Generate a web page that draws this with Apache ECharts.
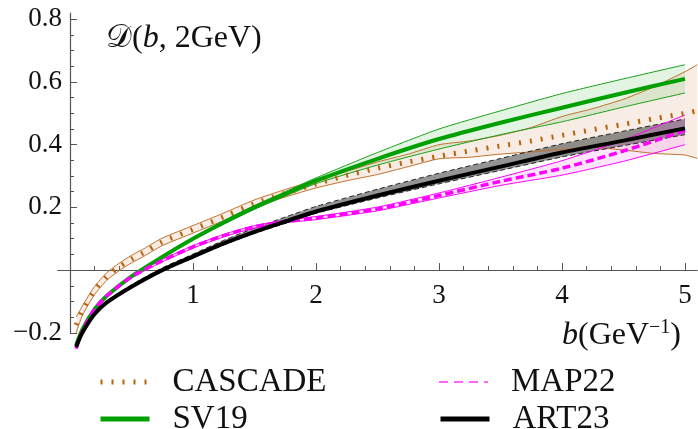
<!DOCTYPE html>
<html>
<head>
<meta charset="utf-8">
<script src="https://cdn.jsdelivr.net/npm/echarts@6/dist/echarts.min.js"></script>
<style>
  html, body { margin: 0; background: #fff; }
  #chart { width: 698px; height: 429px; }
</style>
</head>
<body>
<div id="chart"></div>
<script>
// b grid (GeV^-1) shared by SV19, ART23 and MAP22
var bGrid = [0.05, 0.1, 0.2, 0.3, 0.5, 0.75, 1, 1.25, 1.5, 1.75, 2, 2.5, 3, 3.5, 4, 4.5, 5]

var sv19Mid = [-0.24, -0.19, -0.125, -0.082, -0.02, 0.042, 0.1, 0.152, 0.2, 0.243, 0.285, 0.355, 0.418, 0.47, 0.518, 0.565, 0.61]
var sv19Hi  = [-0.238, -0.188, -0.123, -0.08, -0.017, 0.045, 0.104, 0.157, 0.206, 0.25, 0.294, 0.375, 0.45, 0.508, 0.563, 0.61, 0.655]
var sv19Lo  = [-0.242, -0.192, -0.127, -0.084, -0.023, 0.039, 0.096, 0.147, 0.194, 0.236, 0.276, 0.335, 0.386, 0.432, 0.473, 0.52, 0.565]

var art23Mid = [-0.245, -0.2, -0.14, -0.103, -0.053, 0.0, 0.043, 0.085, 0.122, 0.155, 0.187, 0.238, 0.285, 0.33, 0.375, 0.413, 0.452]
var art23Hi  = [-0.242, -0.197, -0.136, -0.098, -0.047, 0.007, 0.051, 0.095, 0.134, 0.169, 0.203, 0.258, 0.309, 0.356, 0.403, 0.443, 0.482]
var art23Lo  = [-0.247, -0.202, -0.142, -0.106, -0.056, -0.004, 0.039, 0.08, 0.117, 0.149, 0.181, 0.23, 0.275, 0.318, 0.361, 0.397, 0.432]

var map22Mid = [-0.25, -0.195, -0.125, -0.082, -0.022, 0.03, 0.074, 0.11, 0.138, 0.155, 0.166, 0.195, 0.238, 0.283, 0.325, 0.38, 0.445]
var map22Hi  = [-0.248, -0.193, -0.123, -0.079, -0.019, 0.034, 0.078, 0.114, 0.142, 0.159, 0.171, 0.201, 0.246, 0.296, 0.349, 0.415, 0.495]
var map22Lo  = [-0.252, -0.197, -0.127, -0.085, -0.025, 0.026, 0.07, 0.106, 0.134, 0.151, 0.161, 0.189, 0.23, 0.27, 0.303, 0.347, 0.4]

// CASCADE has its own (finer) grid, runs to the right edge
var cascB   = [0.05, 0.1, 0.2, 0.3, 0.4, 0.5, 0.6, 0.75, 1, 1.25, 1.5, 1.75, 2, 2.25, 2.5, 2.75, 3, 3.25, 3.5, 3.75, 4, 4.25, 4.5, 4.75, 5, 5.1]
var cascMid = [-0.175, -0.13, -0.065, -0.02, 0.01, 0.035, 0.056, 0.09, 0.13, 0.17, 0.212, 0.245, 0.275, 0.302, 0.325, 0.345, 0.363, 0.38, 0.396, 0.412, 0.43, 0.448, 0.465, 0.483, 0.5, 0.508]
var cascHi  = [-0.15, -0.115, -0.052, -0.008, 0.022, 0.047, 0.068, 0.102, 0.142, 0.182, 0.224, 0.257, 0.287, 0.315, 0.345, 0.37, 0.4, 0.412, 0.43, 0.455, 0.49, 0.515, 0.545, 0.585, 0.633, 0.655]
var cascLo  = [-0.2, -0.145, -0.078, -0.032, -0.002, 0.023, 0.044, 0.078, 0.118, 0.158, 0.2, 0.233, 0.262, 0.285, 0.305, 0.33, 0.355, 0.36, 0.37, 0.377, 0.385, 0.391, 0.383, 0.372, 0.367, 0.356]

// ticks
var xMajor = [1, 2, 3, 4, 5]
var yMajor = [-0.2, 0, 0.2, 0.4, 0.6, 0.8]
var yLabels = [-0.2, 0.2, 0.4, 0.6, 0.8]

var FONT = "'Liberation Serif', 'DejaVu Serif', serif"
var AXIS = '#555'

var xMinor = []
for (var i = 1; i <= 25; i++) { if (i % 5) xMinor.push(i / 5) }
var yMinor = []
for (var j = -3; j <= 16; j++) { if (j % 4) yMinor.push(j / 20) }

function pairs(xs, ys) {
  return xs.map(function (x, k) { return [x, ys[k]] })
}

// filled band: one polygon through all (b, lo) then back through (b, hi)
function bandFill(name, xs, lo, hi, fill) {
  return {
    name: name + '_band', type: 'custom', silent: true, clip: false,
    data: xs.map(function (x, k) { return [x, lo[k], hi[k]] }),
    encode: { x: 0, y: [1, 2] },
    renderItem: function (params, api) {
      if (params.dataIndex !== 0) return
      var n = params.dataInsideLength
      var pts = []
      for (var k = 0; k < n; k++) pts.push(api.coord([api.value(0, k), api.value(1, k)]))
      for (var m = n - 1; m >= 0; m--) pts.push(api.coord([api.value(0, m), api.value(2, m)]))
      return { type: 'polygon', shape: { points: pts }, style: { fill: fill } }
    }
  }
}

function edge(name, xs, ys, color, type) {
  return {
    name: name, type: 'line', symbol: 'none', smooth: 0.2, clip: false, silent: true,
    data: pairs(xs, ys),
    lineStyle: { color: color, width: 1, type: type || 'solid' }
  }
}

function curve(name, xs, ys, color, width, type) {
  return {
    name: name, type: 'line', symbol: 'none', smooth: 0.3, clip: false,
    data: pairs(xs, ys),
    lineStyle: { color: color, width: width, type: type || 'solid' },
    itemStyle: { color: color }
  }
}

var series = [
  bandFill('CASCADE', cascB, cascLo, cascHi, 'rgba(200,130,70,0.14)'),
  bandFill('SV19', bGrid, sv19Lo, sv19Hi, 'rgba(40,170,40,0.13)'),
  bandFill('ART23', bGrid, art23Lo, art23Hi, 'rgba(60,60,60,0.55)'),
  bandFill('MAP22', bGrid, map22Lo, map22Hi, 'rgba(255,80,255,0.15)'),
  edge('CASCADE_lo', cascB, cascLo, '#c0712e'),
  edge('CASCADE_hi', cascB, cascHi, '#c0712e'),
  edge('SV19_lo', bGrid, sv19Lo, '#1aa01a'),
  edge('SV19_hi', bGrid, sv19Hi, '#1aa01a'),
  edge('ART23_lo', bGrid, art23Lo, '#222', [5, 3]),
  edge('ART23_hi', bGrid, art23Hi, '#222', [5, 3]),
  edge('MAP22_lo', bGrid, map22Lo, '#ff00ff'),
  edge('MAP22_hi', bGrid, map22Hi, '#ff00ff'),
  curve('CASCADE', cascB, cascMid, '#b8620f', 5, [2, 9]),
  curve('SV19', bGrid, sv19Mid, '#00a000', 4),
  curve('MAP22', bGrid, map22Mid, '#ff00ff', 3.5, [8, 4]),
  curve('ART23', bGrid, art23Mid, '#000', 4)
]

function legendItem(item, left, top) {
  return {
    left: left, top: top, selectedMode: false,
    itemWidth: 49, itemHeight: 14,
    itemStyle: { opacity: 0 },
    data: [item],
    textStyle: { fontFamily: FONT, fontSize: 33, lineHeight: 34, color: '#111', padding: [0, 0, 0, 18] }
  }
}

var chart = echarts.init(document.getElementById('chart'))
chart.setOption({
  animation: false,
  backgroundColor: '#fff',
  grid: { left: 57.7, right: 0.7, top: 13, bottom: 96.2, containLabel: false },
  title: [
    {
      left: 101, top: 18,
      text: '{d|𝒟}{n|(}{i|b}{n|, 2GeV)}',
      textStyle: {
        rich: {
          d: { fontFamily: FONT, fontSize: 32, fontWeight: 'normal', color: '#111' },
          n: { fontFamily: FONT, fontSize: 32, fontWeight: 'normal', color: '#111' },
          i: { fontFamily: FONT, fontSize: 32, fontWeight: 'normal', fontStyle: 'italic', color: '#111' }
        }
      }
    },
    {
      right: 12, top: 313,
      text: '{i|b}{n|(GeV}{s|−1}{n|)}',
      textStyle: {
        rich: {
          i: { fontFamily: FONT, fontSize: 32, fontWeight: 'normal', fontStyle: 'italic', color: '#111' },
          n: { fontFamily: FONT, fontSize: 32, fontWeight: 'normal', color: '#111' },
          s: { fontFamily: FONT, fontSize: 20, fontWeight: 'normal', color: '#111', padding: [0, 0, 15, 0] }
        }
      }
    }
  ],
  legend: [
    legendItem({ name: 'CASCADE', lineStyle: { color: '#b8620f', width: 5, type: [2, 9] } }, 93, 360),
    legendItem({ name: 'SV19', lineStyle: { color: '#00a000', width: 5 } }, 93, 397),
    legendItem({ name: 'MAP22', lineStyle: { color: '#ff66ff', width: 2, type: [9, 6] } }, 433, 360),
    legendItem({ name: 'ART23', lineStyle: { color: '#000', width: 5 } }, 433, 397)
  ],
  xAxis: [
    {
      type: 'value', min: -0.1, max: 5.1, position: 'bottom',
      axisLine: { onZero: true, onZeroAxisIndex: 0, lineStyle: { color: AXIS, width: 1.2 } },
      axisTick: { inside: true, length: 7, customValues: xMajor, lineStyle: { color: AXIS } },
      axisLabel: { customValues: xMajor, margin: -50, fontFamily: FONT, fontSize: 27, color: '#111' },
      splitLine: { show: false }
    },
    {
      type: 'value', min: -0.1, max: 5.1, position: 'bottom',
      axisLine: { show: false, onZero: true, onZeroAxisIndex: 0 },
      axisTick: { inside: true, length: 4, customValues: xMinor, lineStyle: { color: AXIS } },
      axisLabel: { show: false },
      splitLine: { show: false }
    }
  ],
  yAxis: [
    {
      type: 'value', min: -0.2, max: 0.82, position: 'left',
      axisLine: { onZero: true, onZeroAxisIndex: 0, lineStyle: { color: AXIS, width: 1.2 } },
      axisTick: { inside: true, length: 7, customValues: yMajor, lineStyle: { color: AXIS } },
      axisLabel: {
        customValues: yLabels, margin: -4.3, fontFamily: FONT, fontSize: 27, color: '#111',
        formatter: function (v) { return v < 0 ? '\u2212' + (-v).toFixed(1) : v.toFixed(1) }
      },
      splitLine: { show: false }
    },
    {
      type: 'value', min: -0.2, max: 0.82, position: 'left',
      axisLine: { show: false, onZero: true, onZeroAxisIndex: 0 },
      axisTick: { inside: true, length: 4, customValues: yMinor, lineStyle: { color: AXIS } },
      axisLabel: { show: false },
      splitLine: { show: false }
    }
  ],
  series: series
})
</script>
</body>
</html>
